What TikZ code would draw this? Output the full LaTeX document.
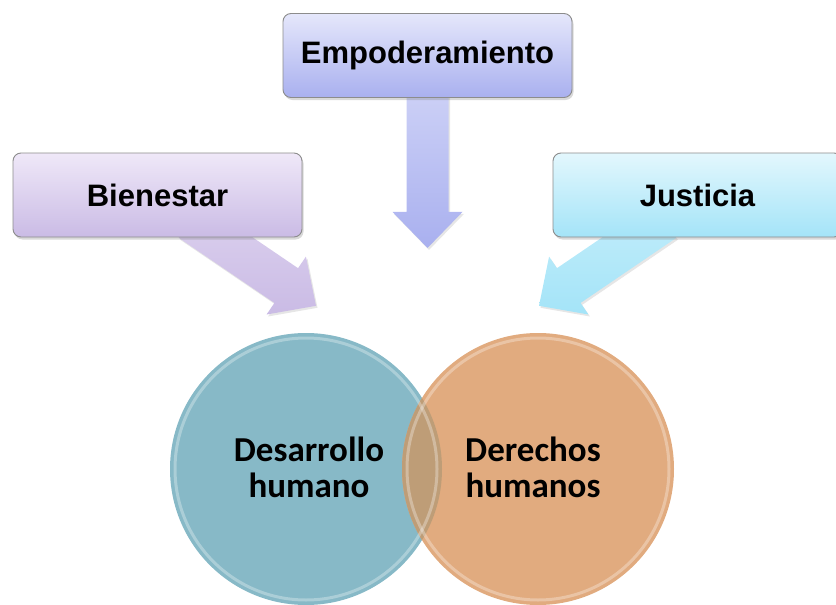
\documentclass[tikz,border=0pt]{standalone}
\usepackage{fontspec}
\setmainfont{Liberation Sans}
\newfontfamily\ringfont{Carlito}
\usetikzlibrary{calc,shadows,backgrounds}

\definecolor{empTop}{HTML}{E5E7FB}
\definecolor{empBot}{HTML}{A9B0EF}
\definecolor{bienTop}{HTML}{EFE8F8}
\definecolor{bienBot}{HTML}{CABBE5}
\definecolor{justTop}{HTML}{E3F7FD}
\definecolor{justBot}{HTML}{A4E4F8}
\definecolor{dhFill}{HTML}{87B9C7}
\definecolor{ddhhFill}{HTML}{E1AB7F}
\definecolor{mixFill}{HTML}{BE9D77}

\tikzset{
  every box/.style={rounded corners=8pt, draw=black!45, line width=0.9pt,
    minimum width=289pt, minimum height=84pt, inner sep=0pt,
    font=\bfseries\fontsize{31}{36}\selectfont,
    drop shadow={shadow xshift=1.5pt, shadow yshift=-2.5pt, opacity=0.3}},
  box emp/.style={top color=empTop, bottom color=empBot},
  box bien/.style={top color=bienTop, bottom color=bienBot},
  box just/.style={top color=justTop, bottom color=justBot},
  every ring/.style={circle, minimum size=272pt, inner sep=0pt},
  ring text/.style={align=center, inner sep=0pt,
    font=\ringfont\bfseries\fontsize{35}{36}\selectfont},
  ring rim/.style={draw=white, draw opacity=0.3, line width=3pt},
  arrow emp/.style={top color=empTop!60!empBot, bottom color=empBot},
  arrow bien/.style={top color=bienTop!50!bienBot, bottom color=bienBot},
  arrow just/.style={top color=justTop!50!justBot, bottom color=justBot},
}

% fat arrow from tail #1 to tip #2
\newcommand\fatarrow[3]{%
  \coordinate (#1-h) at ($(#2)!36pt!(#1)$);
  \path[#3, drop shadow={shadow xshift=1.5pt, shadow yshift=-2pt, opacity=0.2}]
    ($(#1)!21pt!90:(#2)$) -- ($(#1-h)!21pt!90:(#2)$) -- ($(#1-h)!35pt!90:(#2)$)
    -- (#2) -- ($(#1-h)!35pt!-90:(#2)$) -- ($(#1-h)!21pt!-90:(#2)$)
    -- ($(#1)!21pt!-90:(#2)$) -- cycle;}

\begin{document}
\begin{tikzpicture}[x=1pt, y=-1pt]
  \useasboundingbox (0,0) rectangle (836,605);

  % boxes
  \foreach \m/\t/\x/\y in {emp/Empoderamiento/427.5/55.5,
                           bien/Bienestar/157.5/195,
                           just/Justicia/697.5/195}
  \node [every box, box \m] (\m) at (\x,\y) {\t};

  % circles
  \node [every ring, fill=dhFill] (dh) at (306,469) {};
  \node [every ring, fill=ddhhFill] (ddhh) at (538,469) {};
  \begin{scope}
    \clip (dh.center) circle [radius=136pt];
    \fill [mixFill] (ddhh.center) circle [radius=136pt];
  \end{scope}
  \draw [ring rim] (dh.center) circle [radius=131pt];
  \draw [ring rim] (ddhh.center) circle [radius=131pt];
  \node [ring text] (dh-text) at ($(dh.center)+(3,-2)$) {Desarrollo\\humano};
  \node [ring text] (ddhh-text) at ($(ddhh.center)+(-5,-2)$) {Derechos\\humanos};

  % arrows
  \coordinate (emp-tail) at ($(emp.south)+(0,-10)$);
  \coordinate (emp-tip) at ($(emp.south)+(0,150)$);
  \coordinate (bien-tail) at ($(bien.south)+(33,-17)$);
  \coordinate (bien-tip) at ($(dh.north)+(10,-27)$);
  \coordinate (just-tail) at ($(just.south)+(-33,-17)$);
  \coordinate (just-tip) at ($(ddhh.north)+(1,-27)$);
  \begin{scope}[on background layer]
    \foreach \m in {emp,bien,just}
    {\fatarrow{\m-tail}{\m-tip}{arrow \m}}
  \end{scope}
\end{tikzpicture}
\end{document}
